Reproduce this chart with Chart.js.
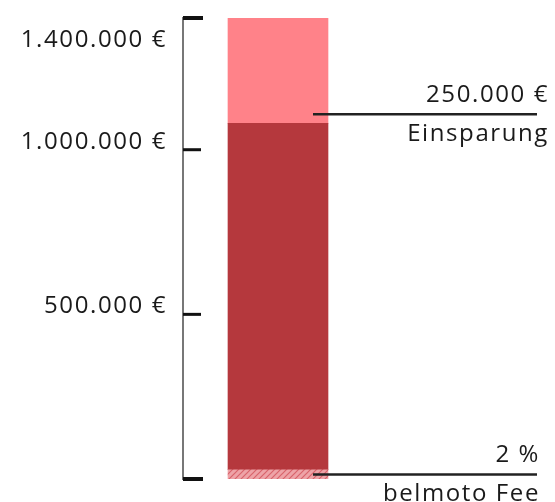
<!DOCTYPE html>
<html>
<head>
<meta charset="utf-8">
<script src="https://cdn.jsdelivr.net/npm/chart.js@4"></script>
<style>
  html, body { margin: 0; padding: 0; background: #fff; }
  #wrap { width: 555px; height: 502px; }
</style>
</head>
<body>
<div id="wrap"><canvas id="myChart"></canvas></div>
<script>
// values
var categories = ["Kosten"];
var feeValues = [28000];       // 2 % belmoto Fee
var costValues = [1052000];
var savingValues = [320000];   // Einsparung
var tickValues = [0, 500000, 1000000, 1400000];
var tickLabels = ["", "500.000 €", "1.000.000 €", "1.400.000 €"];
var savingText = ["250.000 €", "Einsparung"];
var feeText = ["2 %", "belmoto Fee"];

var FONT = "400 24px 'Open Sans', 'Noto Sans', sans-serif";

// hatched fill for the fee segment
function hatch() {
  var c = document.createElement("canvas");
  c.width = 6; c.height = 6;
  var g = c.getContext("2d");
  g.fillStyle = "#eea3a7";
  g.fillRect(0, 0, 6, 6);
  g.strokeStyle = "#d8636b";
  g.lineWidth = 1.2;
  g.beginPath();
  g.moveTo(0, 6); g.lineTo(6, 0);
  g.moveTo(-3, 3); g.lineTo(3, -3);
  g.moveTo(3, 9); g.lineTo(9, 3);
  g.stroke();
  return g.createPattern(c, "repeat");
}

function setText(ctx) {
  ctx.fillStyle = "#1a1a1a";
  ctx.font = FONT;
  ctx.letterSpacing = "1.6px";
  ctx.textAlign = "right";
  ctx.textBaseline = "middle";
}

var axisDeco = {
  id: "axisDeco",
  afterDraw: function (chart) {
    var ctx = chart.ctx;
    var y = chart.scales.y;
    var left = chart.chartArea.left;
    ctx.save();
    // inward tick marks + labels
    tickValues.forEach(function (v, i) {
      var py = y.getPixelForValue(v);
      var edge = i === 0 || i === tickValues.length - 1;
      ctx.strokeStyle = "#111";
      ctx.lineWidth = edge ? 4 : 3;
      ctx.beginPath();
      ctx.moveTo(left, py);
      ctx.lineTo(left + (edge ? 20 : 18), py);
      ctx.stroke();
      if (tickLabels[i]) {
        setText(ctx);
        var ly = i === tickValues.length - 1 ? py + 22 : py - 8;
        ctx.fillText(tickLabels[i], 167, ly);
      }
    });

    // annotation lines
    function note(bar, ly, texts, right) {
      ctx.strokeStyle = "#222";
      ctx.lineWidth = 2.5;
      ctx.beginPath();
      ctx.moveTo(bar.x + bar.width / 2 - 15, ly);
      ctx.lineTo(537, ly);
      ctx.stroke();
      setText(ctx);
      ctx.fillText(texts[0], right, ly - 19);
      ctx.fillText(texts[1], right, ly + 20);
    }
    var saveBar = chart.getDatasetMeta(2).data[0];
    var feeBar = chart.getDatasetMeta(0).data[0];
    note(saveBar, saveBar.base - 9, savingText, 549);
    note(feeBar, (feeBar.y + feeBar.base) / 2, feeText, 540);
    ctx.restore();
  }
};

var ctx = document.getElementById("myChart").getContext("2d");
var chart = new Chart(ctx, {
  type: "bar",
  data: {
    labels: categories,
    datasets: [
      { label: "belmoto Fee", data: feeValues, backgroundColor: hatch() },
      { label: "Kosten", data: costValues, backgroundColor: "#b5383d" },
      { label: "Einsparung", data: savingValues, backgroundColor: "#ff8289" }
    ]
  },
  options: {
    responsive: true,
    maintainAspectRatio: false,
    animation: false,
    layout: { padding: { left: 183, right: 182, top: 18, bottom: 23 } },
    plugins: { legend: { display: false }, tooltip: { enabled: false } },
    datasets: { bar: { barThickness: 100 } },
    scales: {
      x: { stacked: true, display: false },
      y: {
        stacked: true,
        min: 0,
        max: 1400000,
        grid: { display: false, drawTicks: false },
        ticks: { display: false },
        border: { display: true, color: "#777", width: 2 }
      }
    }
  },
  plugins: [axisDeco]
});
</script>
</body>
</html>
